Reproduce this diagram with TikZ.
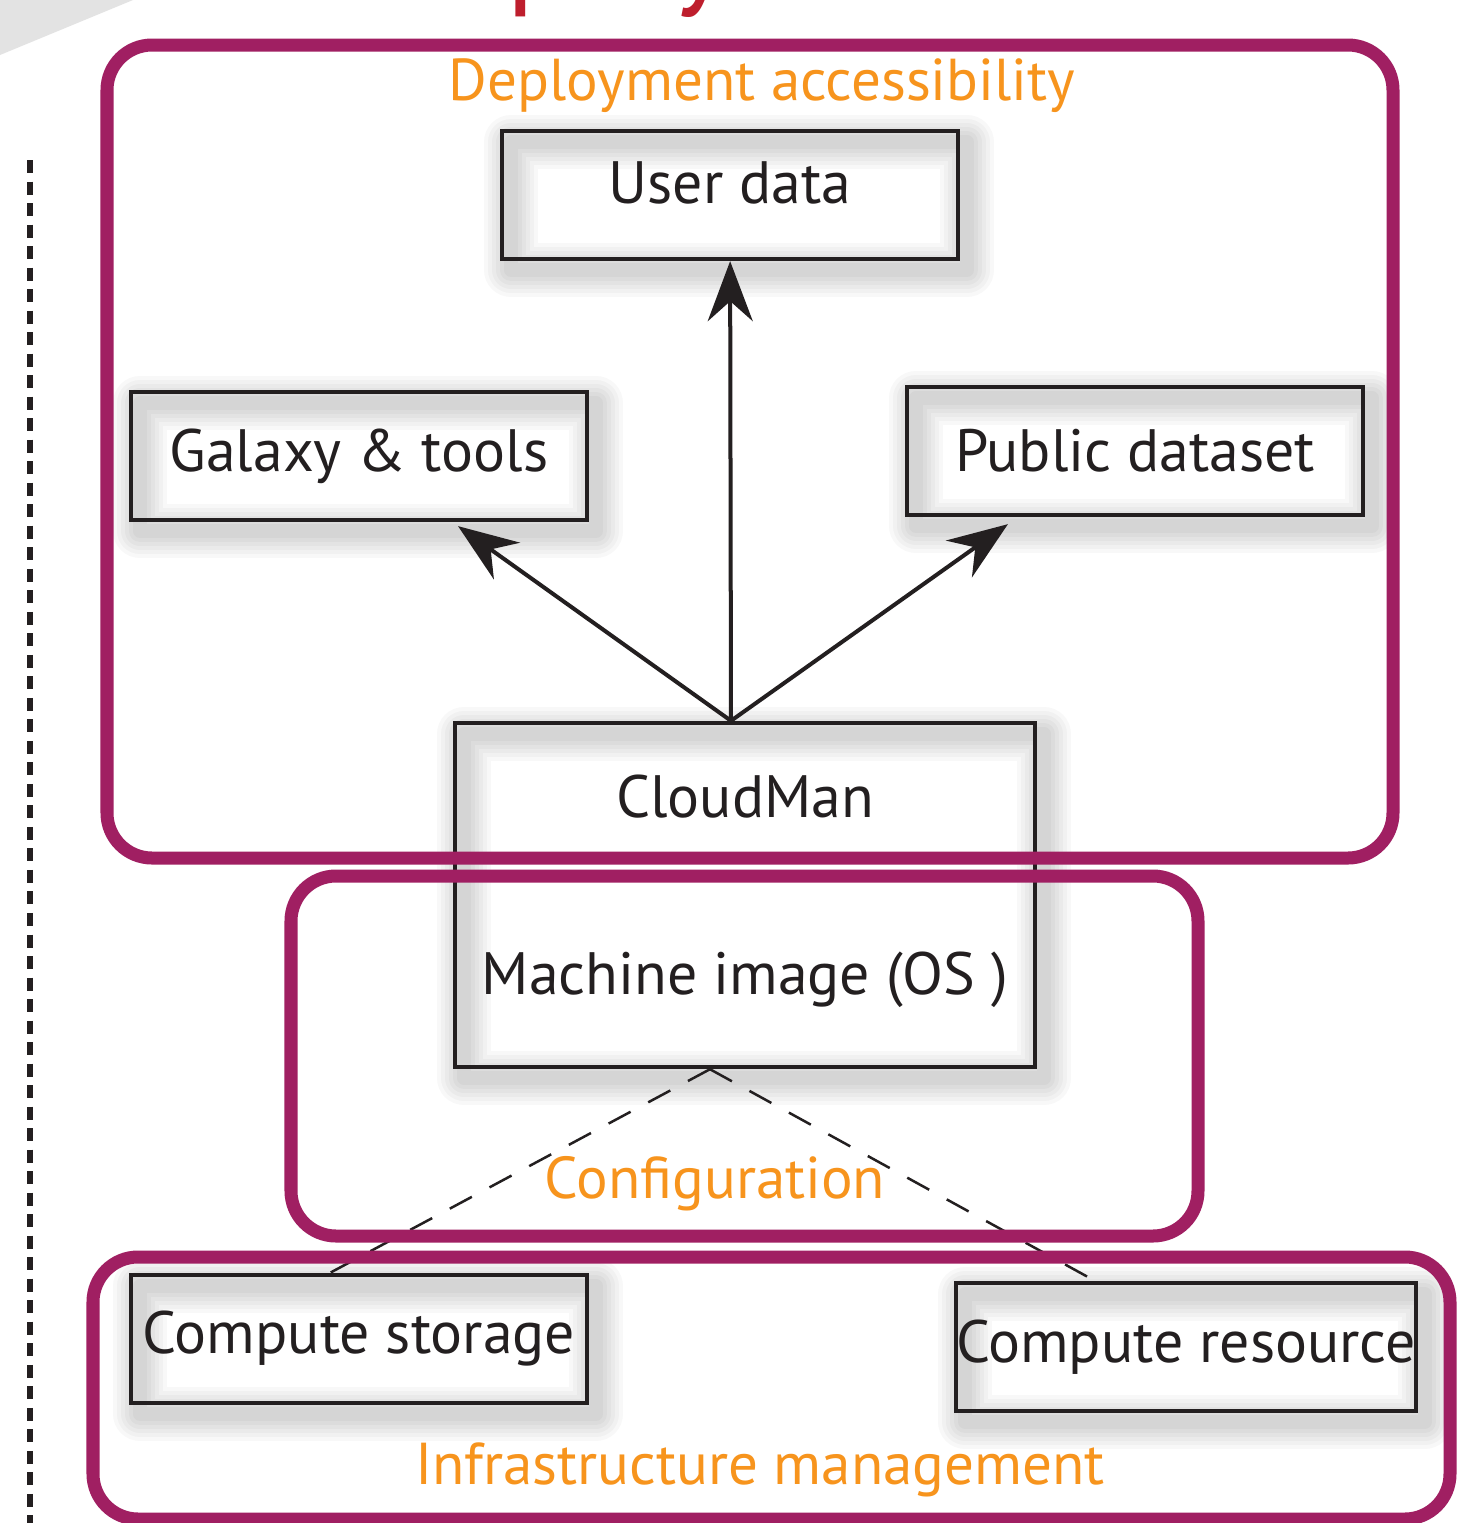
\documentclass[tikz,border=0pt]{standalone}
\usepackage{fontspec}
\setmainfont{PT Sans}
\usetikzlibrary{arrows.meta,positioning,calc}
\definecolor{frame}{RGB}{160,31,98}
\definecolor{lbl}{RGB}{247,148,29}
\definecolor{ttl}{RGB}{190,30,45}
\definecolor{ink}{RGB}{35,31,32}

\begin{document}
\begin{tikzpicture}[x=0.01cm,y=-0.01cm,
  sh/.style={draw=black,opacity=0.028,line join=round,line width=#1,transform canvas={shift={(0.09cm,-0.11cm)}}},
  box/.style={draw=ink,line width=1.2pt,minimum width=4.56cm,minimum height=1.28cm,inner sep=0pt,
    text=ink,font=\fontsize{17}{20}\selectfont,
    preaction={sh=0.54cm},preaction={sh=0.46cm},preaction={sh=0.38cm},
    preaction={sh=0.30cm},preaction={sh=0.22cm},preaction={sh=0.14cm}},
  txt/.style={text=ink,font=\fontsize{17}{20}\selectfont},
  lab/.style={text=lbl,font=\fontsize{16.8}{20}\selectfont},
  frm/.style={draw=frame,line width=0.13cm,rounded corners=0.45cm},
  arr/.style={-{Stealth[length=0.6cm,width=0.45cm,inset=0.2cm]},line width=0.04cm,draw=ink},
  cfg/.style={draw=ink,line width=0.025cm,dash pattern=on 0.25cm off 0.2cm}]
\fill[white] (0,0) rectangle (1474,1523);
\useasboundingbox (0,0) rectangle (1474,1523);
\clip (0,0) rectangle (1474,1523);
% corner wedge, cut title, side rule
\fill[gray!22] (0,0) -- (133,0) -- (0,55) -- cycle;
\node[anchor=base west,inner sep=0pt,text=ttl,font=\fontsize{34.7}{40}\selectfont] (title) at (364,-8) {Deployment};
\draw[ink,line width=0.05cm,dash pattern=on 0.13cm off 0.085cm] (30,160) -- (30,1523);
% components
\node[box,text depth=0.24cm] (ud) at (730,195) {User data};
\node[box] (gt) at (359,456) {Galaxy \& tools};
\node[box] (pd) at (1135,451) {Public dataset};
\node[box,minimum width=5.8cm,minimum height=3.44cm] (cm) at (745,895) {};
\node[txt] (cmt) at (745,797) {CloudMan};
\node[txt,below=1.08cm of cmt] (mi) {Machine image (OS )};
\node[box] (cs) at (359,1339) {Compute storage};
\node[box] (cr) at (1186,1347) {Compute resource};
\coordinate (hub) at ([xshift=-0.14cm]cm.north);
\coordinate (cb) at ([xshift=-0.35cm]cm.south);
\draw[arr] (hub) -- (ud);
\draw[arr] (hub) -- ([xshift=0.99cm,yshift=-0.04cm]gt.south);
\draw[arr] (hub) -- ([xshift=-1.27cm,yshift=-0.07cm]pd.south);
\draw[cfg] (cb) -- ([xshift=-0.29cm]cs.north);
\draw[cfg] (cb) -- ([xshift=-0.91cm]cr.north);
% layers
\draw[frm] (107,45) rectangle (1393,858);
\draw[frm] (291,876) rectangle (1198,1236);
\draw[frm] (93,1257) rectangle (1450,1519);
\node[lab] (dacc) at (762,86) {Deployment accessibility};
\node[lab] (conf) at (715,1184) {Configuration};
\node[lab] (infra) at (760,1470) {Infrastructure management};
\end{tikzpicture}
\end{document}
